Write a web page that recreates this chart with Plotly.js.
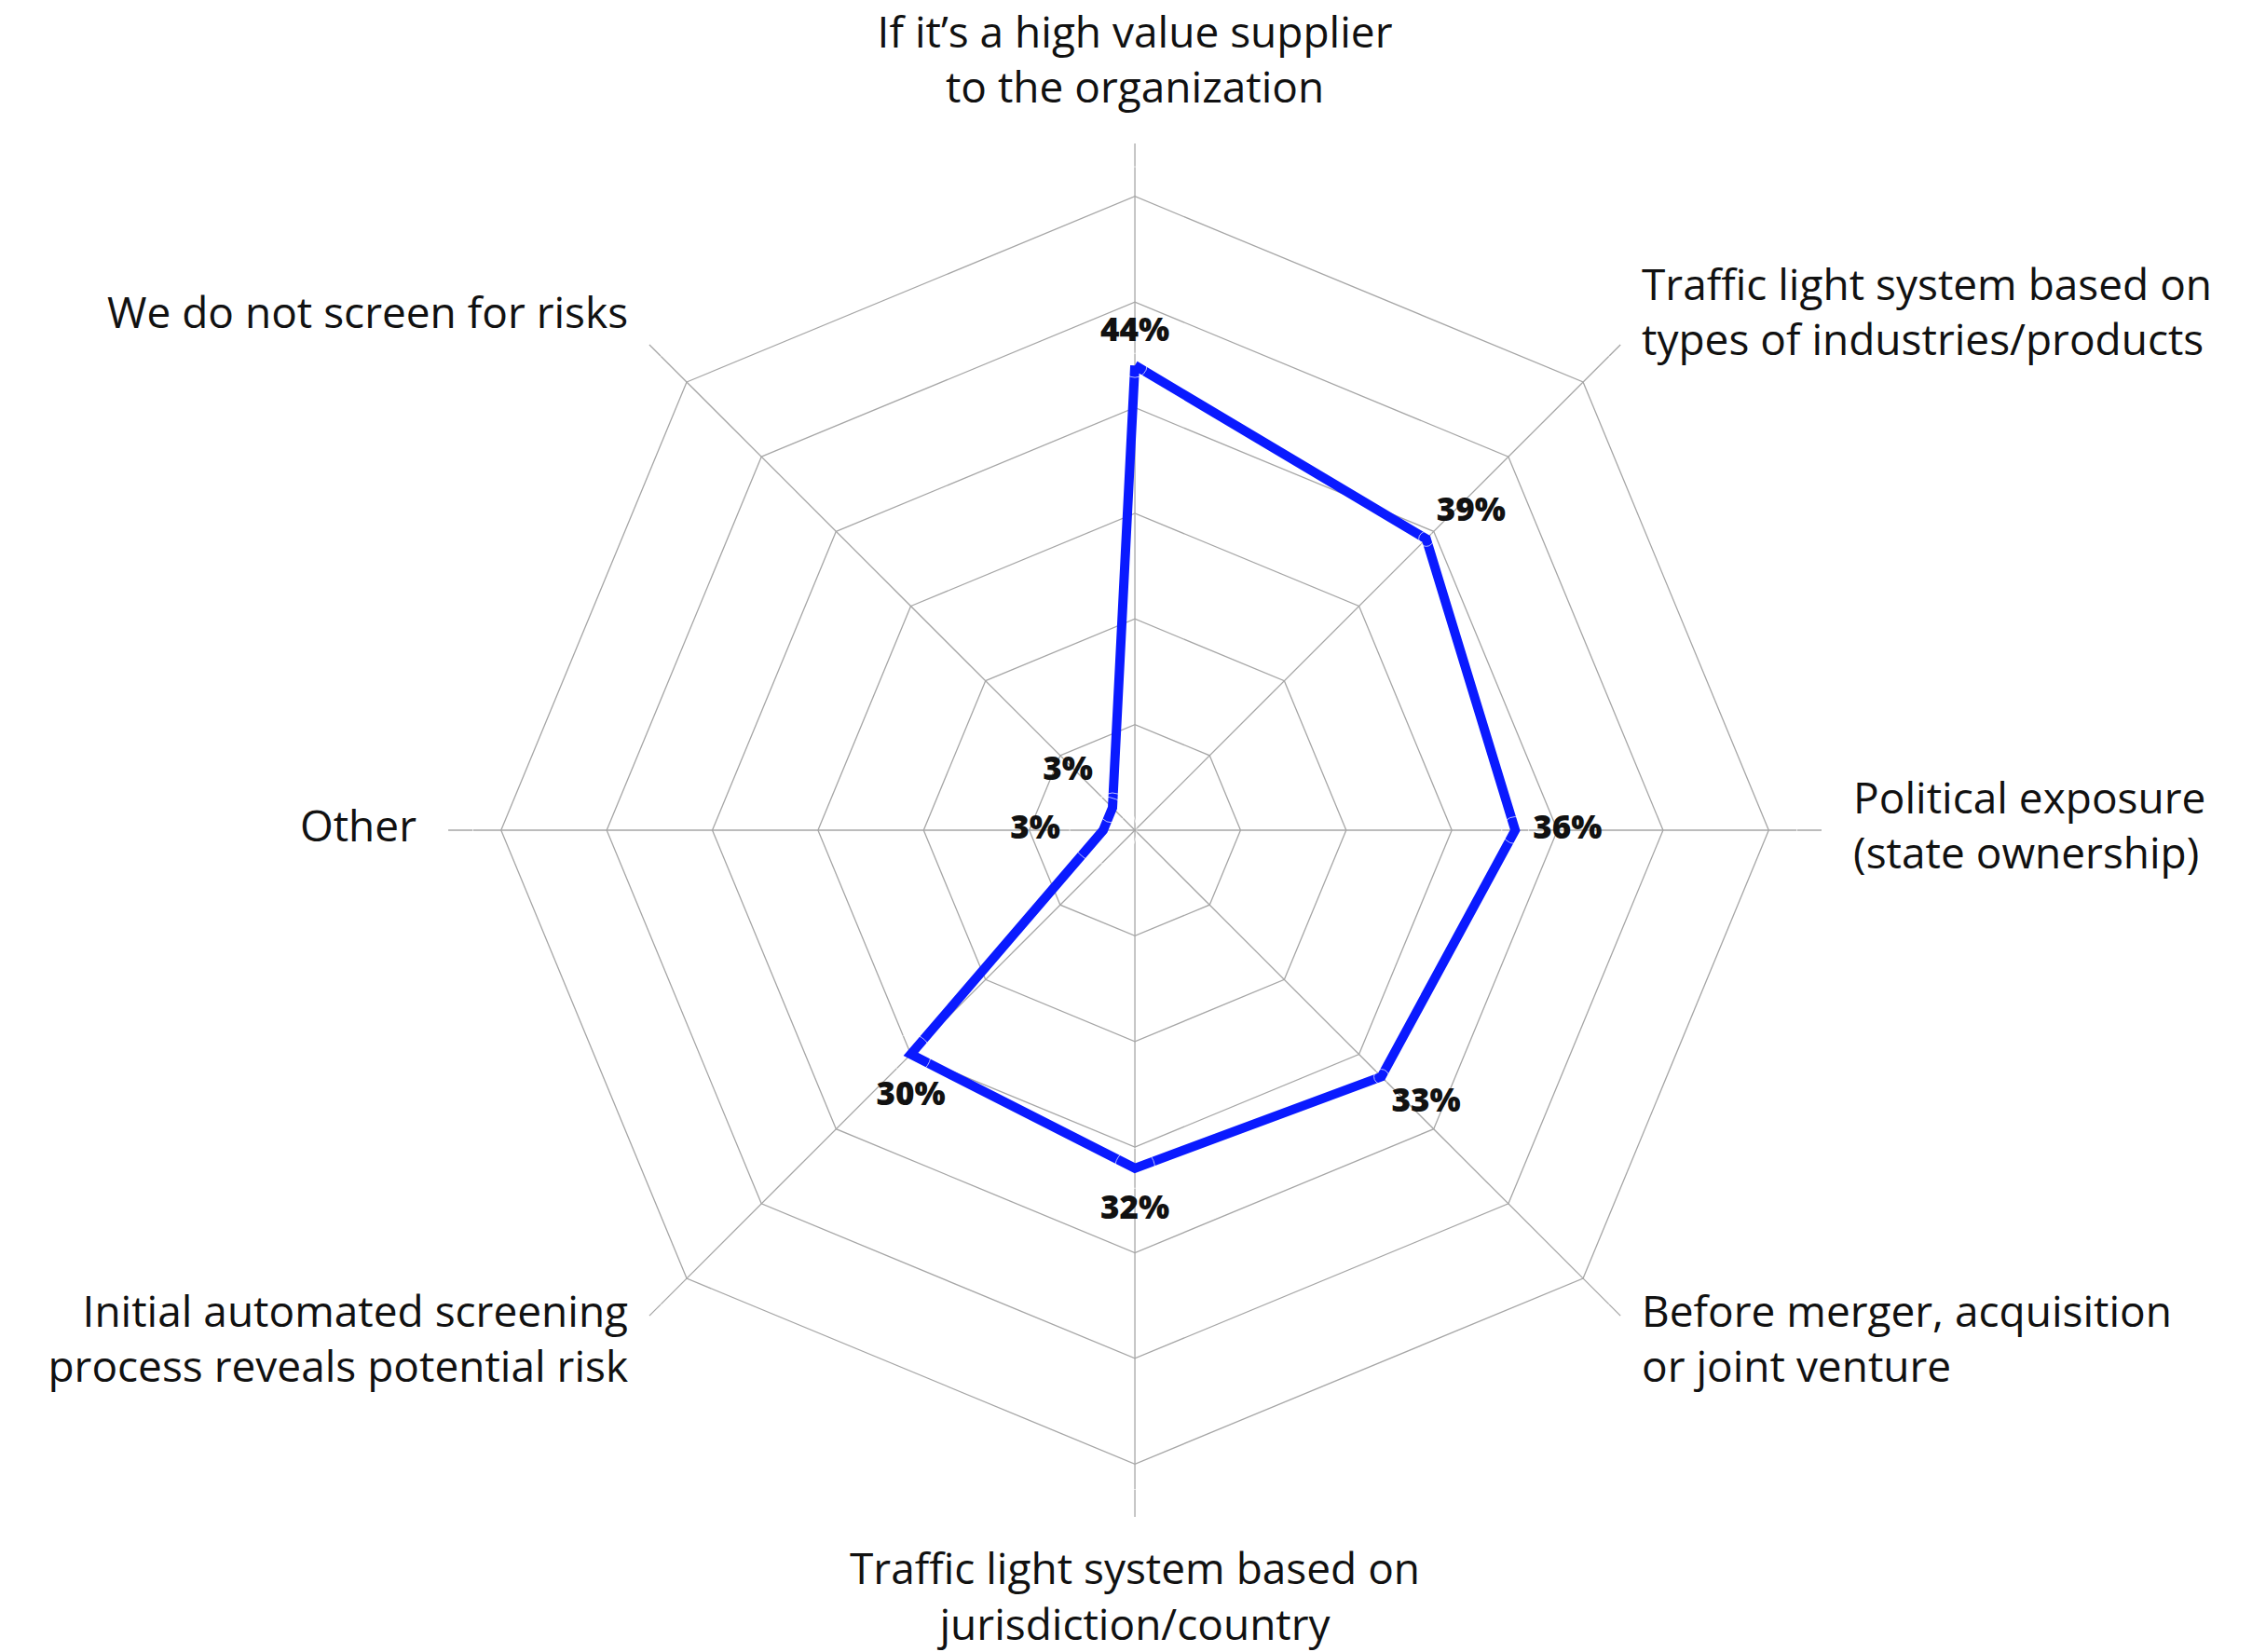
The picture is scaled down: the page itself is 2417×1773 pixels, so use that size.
<!DOCTYPE html>
<html>
<head>
<meta charset="utf-8">
<script src="https://cdn.plot.ly/plotly-3.0.1.min.js"></script>
<style>html,body{margin:0;padding:0;background:#fff;}#chart{width:2417px;height:1773px;}</style>
</head>
<body>
<div id="chart"></div>
<script>
const categories = [
  "If it’s a high value supplier<br>to the organization",
  "Traffic light system based on<br>types of industries/products",
  "Political exposure<br>(state ownership)",
  "Before merger, acquisition<br>or joint venture",
  "Traffic light system based on<br>jurisdiction/country",
  "Initial automated screening<br>process reveals potential risk",
  "Other",
  "We do not screen for risks"
];
const values = [44, 39, 36, 33, 32, 30, 3, 3];
const valueLabels = ["44%", "39%", "36%", "33%", "32%", "30%", "3%", "3%"];
const gridVals = [10, 20, 30, 40, 50, 60];
const axisMax = 65;

const closedTheta = categories.concat([categories[0]]);
const closedR = values.concat([values[0]]);

const lineTrace = {
  type: "scatterpolar",
  mode: "lines",
  r: closedR,
  theta: closedTheta,
  line: {color: "#0a1aff", width: 10},
  hoverinfo: "skip",
  showlegend: false
};

const labelTrace = {
  type: "scatterpolar",
  mode: "markers+text",
  r: values,
  theta: categories,
  text: valueLabels,
  textposition: ["top center", "top right", "middle right", "bottom right", "bottom center", "bottom center", "middle left", "top left"],
  marker: {size: [26, 16, 29, 16, 43, 43, 72, 32], color: "rgba(0,0,0,0)"},
  textfont: {family: "'Open Sans', sans-serif", size: 35, color: "#111", weight: 800},
  cliponaxis: false,
  hoverinfo: "skip",
  showlegend: false
};

// vertical nudge of the diagonal labels: upper ones sit a bit higher, lower ones a bit lower
const labelShift = ["", "up", "", "down", "", "down", "", "up"];
const catText = categories.map((c, i) =>
  labelShift[i] === "up" ? c + "<br> " : labelShift[i] === "down" ? " <br>" + c : c);

// category labels placed at the end of each spoke
const catTrace = {
  type: "scatterpolar",
  mode: "markers+text",
  r: categories.map(() => axisMax),
  theta: categories,
  text: catText,
  textposition: ["top center", "middle right", "middle right", "middle right", "bottom center", "middle left", "middle left", "middle left"],
  marker: {size: [50, 35, 53, 35, 59, 35, 53, 35], color: "rgba(0,0,0,0)"},
  textfont: {family: "'Open Sans', sans-serif", size: 46, color: "#111"},
  cliponaxis: false,
  hoverinfo: "skip",
  showlegend: false
};

const layout = {
  width: 2417,
  height: 1773,
  margin: {l: 0, r: 0, t: 0, b: 0},
  paper_bgcolor: "#fff",
  plot_bgcolor: "#fff",
  showlegend: false,
  font: {family: "'Open Sans', sans-serif", color: "#111"},
  polar: {
    domain: {x: [0.1990, 0.8089], y: [0.0818, 0.9131]},
    gridshape: "linear",
    bgcolor: "#fff",
    radialaxis: {
      range: [0, axisMax],
      tickvals: gridVals,
      showticklabels: false,
      ticks: "",
      showline: false,
      gridcolor: "#a6a6a6",
      gridwidth: 1.3
    },
    angularaxis: {
      type: "category",
      categoryarray: categories,
      rotation: 90,
      direction: "clockwise",
      showline: false,
      ticks: "",
      showticklabels: false,
      gridcolor: "#a6a6a6",
      gridwidth: 1.3
    }
  }
};

Plotly.newPlot("chart", [lineTrace, labelTrace, catTrace], layout, {displayModeBar: false, staticPlot: true});
</script>
</body>
</html>
